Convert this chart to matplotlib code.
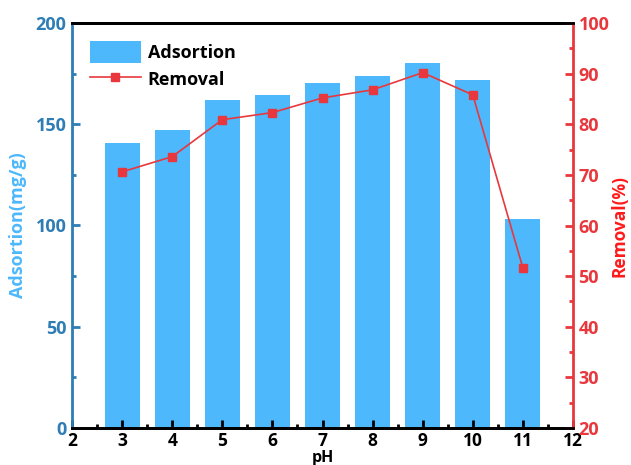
import matplotlib
matplotlib.use("Agg")
import matplotlib.pyplot as plt
from matplotlib.ticker import MultipleLocator

ph = [3, 4, 5, 6, 7, 8, 9, 10, 11]
adsorption = [140.7, 147.2, 162.0, 164.6, 170.6, 173.8, 180.4, 171.8, 103.2]
removal = [70.6, 73.6, 80.9, 82.3, 85.2, 86.8, 90.2, 85.8, 51.6]

plt.rcParams['font.family'] = ['Open Sans', 'DejaVu Sans']
plt.rcParams['font.weight'] = 'bold'

BAR = '#4db8fc'
LBLUE = '#2e7db5'
RED = '#e8383d'
FS = 13

fig = plt.figure(figsize=(6.31, 4.65), dpi=100)
ax = fig.add_axes([72/631, 1-428/465, (573-72)/631, (428-23)/465])
ax2 = ax.twinx()

b = ax.bar(ph, adsorption, width=0.7, color=BAR, label='Adsortion', zorder=1)
l, = ax2.plot(ph, removal, color=RED, lw=1.2, marker='s', ms=6, label='Removal')

ax.set_xlim(2, 12)
ax.set_ylim(0, 200)
ax2.set_ylim(20, 100)
ax.xaxis.set_major_locator(MultipleLocator(1))
ax.xaxis.set_minor_locator(MultipleLocator(0.5))
ax.yaxis.set_major_locator(MultipleLocator(50))
ax.yaxis.set_minor_locator(MultipleLocator(25))
ax2.yaxis.set_major_locator(MultipleLocator(10))
ax2.yaxis.set_minor_locator(MultipleLocator(5))

for a in (ax, ax2):
    for s in a.spines.values():
        s.set_linewidth(2)
ax.spines['left'].set_color(LBLUE)
ax2.spines['left'].set_visible(False)
ax.spines['right'].set_visible(False)
ax2.spines['right'].set_color(RED)
ax2.spines['top'].set_color('black')
ax2.spines['bottom'].set_color('black')

ax.tick_params(axis='x', which='both', direction='in', width=2, top=False, labelsize=12.5, pad=3)
ax.tick_params(axis='x', which='major', length=6)
ax.tick_params(axis='x', which='minor', length=3)
ax.tick_params(axis='y', which='both', direction='in', width=2, colors=LBLUE, labelsize=FS, pad=4)
ax.tick_params(axis='y', which='major', length=6)
ax.tick_params(axis='y', which='minor', length=3)
ax2.tick_params(axis='y', which='both', direction='in', width=2, colors=RED, labelsize=FS, pad=4)
ax2.tick_params(axis='y', which='major', length=6)
ax2.tick_params(axis='y', which='minor', length=3)

ax.set_xlabel('pH', fontsize=11.5, fontweight='bold', labelpad=0)
ax.set_ylabel('Adsortion(mg/g)', fontsize=FS, fontweight='bold', color='#4db8fc', labelpad=6)
ax2.set_ylabel('Removal(%)', fontsize=12.5, fontweight='bold', color='#ff1a1a', labelpad=1)

ax2.set_zorder(ax.get_zorder() + 1)
ax2.patch.set_visible(False)

ax2.legend([b, l], ['Adsortion', 'Removal'], loc='upper left', frameon=False,
           prop={'weight': 'bold', 'size': FS},
           handlelength=2.8, handleheight=1.5, borderaxespad=0.6, labelspacing=0.3,
           handletextpad=0.4)

fig.savefig('out.png', dpi=100)
